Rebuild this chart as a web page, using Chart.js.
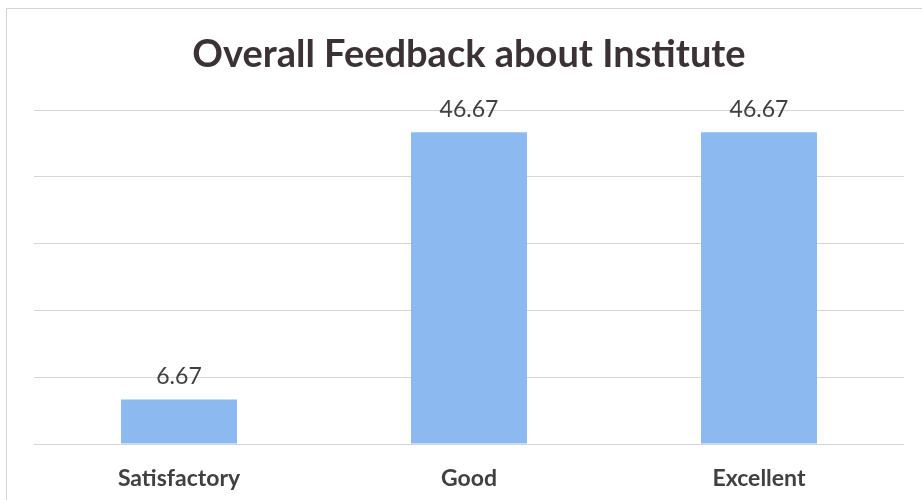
<!DOCTYPE html>
<html>
<head>
<meta charset="utf-8">
<script src="https://cdn.jsdelivr.net/npm/chart.js@4"></script>
<style>
  body { margin: 0; background: #fff; }
  #wrap { position: relative; width: 922px; height: 500px; }
  #frame { position: absolute; left: 6px; top: 8px; right: 0; bottom: 0;
           border-left: 1px solid #d4d4d4; border-top: 1px solid #d4d4d4; }
  canvas { position: absolute; left: 0; top: 0; }
</style>
</head>
<body>
<div id="wrap">
  <div id="frame"></div>
  <canvas id="feedbackChart" width="922" height="500"></canvas>
</div>
<script>
// Feedback percentages per rating
const categories = ['Satisfactory', 'Good', 'Excellent'];
const percentages = [6.67, 46.67, 46.67];
const yTicks = [0, 10, 20, 30, 40, 50];

// Writes each bar's value above it
const valueLabels = {
    id: 'valueLabels',
    afterDatasetsDraw(chart) {
        const ctx = chart.ctx;
        const meta = chart.getDatasetMeta(0);
        ctx.save();
        ctx.font = '23px Lato';
        ctx.fillStyle = '#404040';
        ctx.textAlign = 'center';
        ctx.textBaseline = 'middle';
        meta.data.forEach((bar, i) => {
            ctx.fillText(percentages[i].toFixed(2), bar.x, bar.y - 23);
        });
        ctx.restore();
    }
};

const ctx = document.getElementById('feedbackChart').getContext('2d');
const feedbackChart = new Chart(ctx, {
    type: 'bar',
    data: {
        labels: categories,
        datasets: [{
            data: percentages,
            backgroundColor: '#8cbaf0',
            barPercentage: 0.4,
            categoryPercentage: 1
        }]
    },
    options: {
        responsive: false,
        animation: false,
        layout: {
            padding: { left: 34, right: 18, top: 0, bottom: 9 }
        },
        scales: {
            x: {
                grid: { display: false, drawTicks: false },
                border: { display: false },
                afterFit(scale) {
                    scale.height = 47;
                },
                ticks: {
                    padding: 21,
                    color: '#404040',
                    font: { family: 'Lato', size: 23, weight: 'bold' }
                }
            },
            y: {
                min: 0,
                max: 50,
                afterBuildTicks(scale) {
                    scale.ticks = yTicks.map(v => ({ value: v }));
                },
                grid: { color: '#d6d6d6', drawTicks: false },
                border: { display: false },
                ticks: { display: false }
            }
        },
        plugins: {
            legend: { display: false },
            tooltip: { enabled: false },
            title: {
                display: true,
                text: 'Overall Feedback about Institute',
                color: '#3b3236',
                font: { family: 'Lato', size: 38, weight: 'bold' },
                padding: { top: 32, bottom: 32.4 }
            }
        }
    },
    plugins: [valueLabels]
});
</script>
</body>
</html>
